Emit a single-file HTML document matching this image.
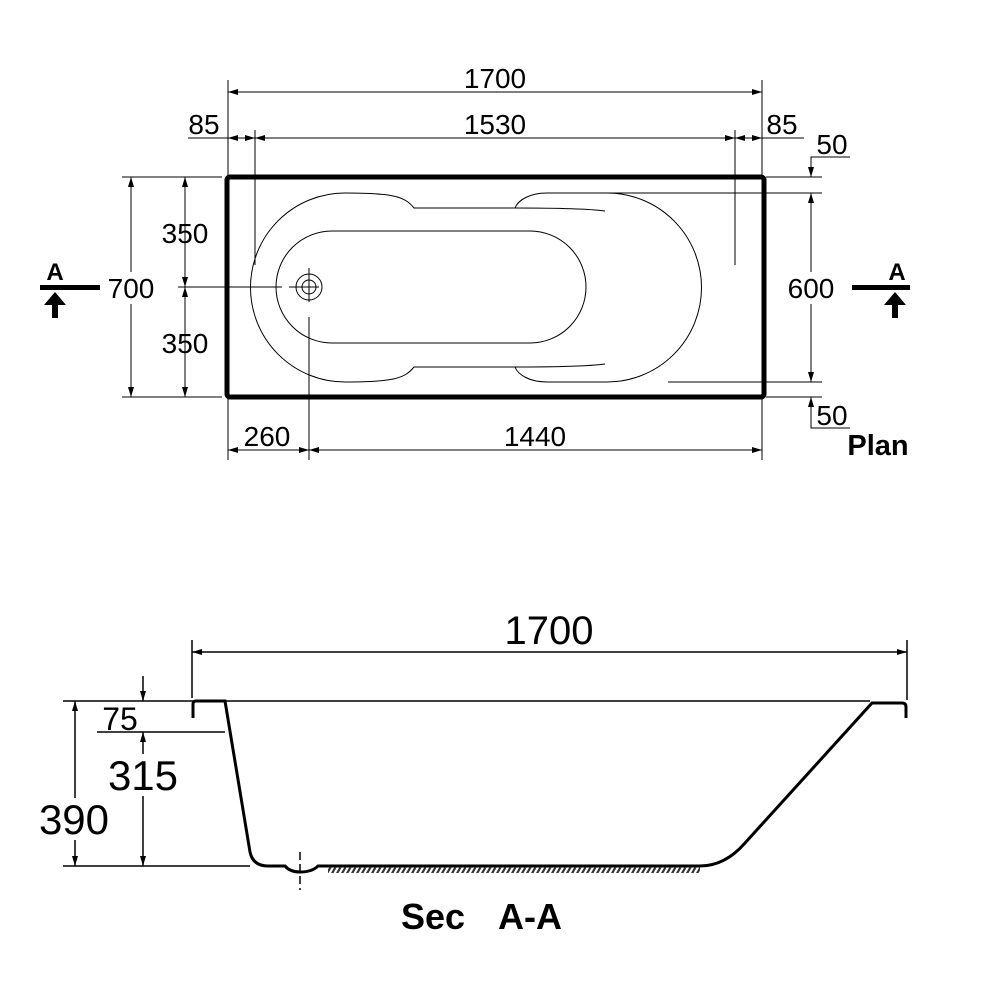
<!DOCTYPE html>
<html><head><meta charset="utf-8"><style>body{margin:0;background:#fff}svg{display:block}text{font-family:"Liberation Sans",sans-serif;fill:#000}</style></head>
<body>
<svg width="1000" height="1000" viewBox="0 0 1000 1000" xmlns="http://www.w3.org/2000/svg">
<defs>
<marker id="ar" viewBox="0 0 10 6" refX="10" refY="3" markerWidth="10" markerHeight="6" markerUnits="userSpaceOnUse" orient="auto-start-reverse"><path d="M0,0L10,3L0,6z"/></marker>
<pattern id="h" width="5" height="6" patternUnits="userSpaceOnUse" patternTransform="skewX(-30)"><rect width="2.5" height="6" fill="#333"/></pattern>
</defs>
<g stroke="#000" stroke-width="1" fill="none">
<line x1="228" y1="80" x2="228" y2="177"/><line x1="762" y1="80" x2="762" y2="177"/>
<line x1="228" y1="92" x2="762" y2="92" marker-start="url(#ar)" marker-end="url(#ar)"/>
<line x1="255" y1="130" x2="255" y2="265"/><line x1="735" y1="130" x2="735" y2="265"/>
<line x1="188" y1="138" x2="228" y2="138"/>
<line x1="228" y1="138" x2="255" y2="138" marker-start="url(#ar)" marker-end="url(#ar)"/>
<line x1="255" y1="138" x2="735" y2="138" marker-start="url(#ar)" marker-end="url(#ar)"/>
<line x1="735" y1="138" x2="762" y2="138" marker-start="url(#ar)" marker-end="url(#ar)"/>
<line x1="762" y1="138" x2="804" y2="138"/>
<line x1="122" y1="177" x2="222" y2="177"/><line x1="122" y1="397" x2="222" y2="397"/>
<line x1="131" y1="177" x2="131" y2="397" marker-start="url(#ar)" marker-end="url(#ar)"/>
<line x1="185" y1="177" x2="185" y2="287" marker-start="url(#ar)" marker-end="url(#ar)"/>
<line x1="185" y1="287" x2="185" y2="397" marker-start="url(#ar)" marker-end="url(#ar)"/>
<line x1="178" y1="287" x2="282" y2="287"/>
<line x1="228" y1="397" x2="228" y2="460"/><line x1="309" y1="317" x2="309" y2="460"/><line x1="762" y1="397" x2="762" y2="460"/>
<line x1="228" y1="450" x2="309" y2="450" marker-start="url(#ar)" marker-end="url(#ar)"/>
<line x1="309" y1="450" x2="762" y2="450" marker-start="url(#ar)" marker-end="url(#ar)"/>
<line x1="766" y1="177" x2="822" y2="177"/><line x1="635" y1="193" x2="822" y2="193"/>
<line x1="668" y1="382" x2="822" y2="382"/><line x1="766" y1="397" x2="822" y2="397"/>
<line x1="811" y1="193" x2="811" y2="382" marker-start="url(#ar)" marker-end="url(#ar)"/>
<polyline points="850,157 811,157 811,177" marker-end="url(#ar)"/>
<polyline points="850,428 811,428 811,397" marker-end="url(#ar)"/>
<path d="M720,193 H547 C530,193 518,200 515,208 H414 C405,197 395,193 345,193 A94.5,94.5 0 0 0 345,382 C395,382 405,378 414,367 H515 C518,375 530,382 547,382 H607 A94.5,94.5 0 0 0 607,193"/>
<path d="M515,208 C560,208 590,209 605,211"/><path d="M515,367 C560,367 590,366 605,364"/>
<rect x="276" y="231" width="310" height="112" rx="56" ry="56"/>
<circle cx="309" cy="287" r="13"/><circle cx="309" cy="287" r="7"/>
<line x1="289" y1="287" x2="319" y2="287"/><line x1="309" y1="268" x2="309" y2="302"/>
</g>
<rect x="227" y="177" width="537" height="220" rx="3" fill="none" stroke="#000" stroke-width="5"/>
<g fill="#000">
<rect x="40" y="285" width="60" height="5"/><path d="M44,305 L55,292 L66,305 H58 V318 H52 V305z"/>
<rect x="852" y="285" width="58" height="5"/><path d="M884,305 L895,292 L906,305 H898 V318 H892 V305z"/>
</g>
<g font-size="28" text-anchor="middle">
<text x="495" y="88">1700</text>
<text x="204" y="134">85</text><text x="495" y="134">1530</text><text x="782" y="134">85</text>
<rect x="103" y="272" width="58" height="32" fill="#fff"/>
<text x="131" y="298">700</text>
<text x="185" y="243">350</text><text x="185" y="353">350</text>
<rect x="781" y="272" width="60" height="32" fill="#fff"/>
<text x="811" y="298">600</text>
<text x="267" y="446">260</text><text x="535" y="446">1440</text>
<text x="832" y="154">50</text><text x="832" y="425">50</text>
<text x="55" y="280" font-weight="bold" font-size="24">A</text>
<text x="897" y="280" font-weight="bold" font-size="24">A</text>
<text x="878" y="455" font-weight="bold" font-size="29">Plan</text>
</g>
<g stroke="#000" fill="none">
<line x1="192" y1="640" x2="192" y2="698" stroke-width="1.5"/><line x1="907" y1="640" x2="907" y2="700" stroke-width="1.5"/>
<line x1="192" y1="652" x2="907" y2="652" stroke-width="1.5" marker-start="url(#ar)" marker-end="url(#ar)"/>
<line x1="63" y1="701" x2="870" y2="701" stroke-width="1.5"/>
<path d="M193,718 V704 Q193,701 196,701 H225 L250,852 Q253,866 268,866 H285 Q290,872 300,872 Q312,872 318,866 H700 Q725,866 745,843 L872,703 H902 Q906,703 906,707 V718" stroke-width="3"/>
<line x1="63" y1="866" x2="250" y2="866" stroke-width="1.5"/>
<line x1="97" y1="732" x2="225" y2="732" stroke-width="1.5"/>
<line x1="75" y1="701" x2="75" y2="866" stroke-width="1.5" marker-start="url(#ar)" marker-end="url(#ar)"/>
<line x1="143" y1="676" x2="143" y2="701" stroke-width="1.5" marker-end="url(#ar)"/>
<line x1="143" y1="732" x2="143" y2="866" stroke-width="1.5" marker-start="url(#ar)" marker-end="url(#ar)"/>
<line x1="300" y1="852" x2="300" y2="890" stroke-width="1.5" stroke-dasharray="8,4"/>
</g>
<rect x="328" y="867" width="372" height="6" fill="url(#h)"/>
<g text-anchor="middle">
<text x="549" y="644" font-size="40">1700</text>
<text x="120" y="730" font-size="32">75</text>
<rect x="102" y="754" width="80" height="42" fill="#fff"/>
<text x="143" y="790" font-size="42">315</text>
<rect x="36" y="798" width="78" height="42" fill="#fff"/>
<text x="74" y="834" font-size="42">390</text>
<text x="433" y="929" font-size="36" font-weight="bold">Sec</text>
<text x="530" y="929" font-size="36" font-weight="bold">A-A</text>
</g>
</svg>
</body></html>
